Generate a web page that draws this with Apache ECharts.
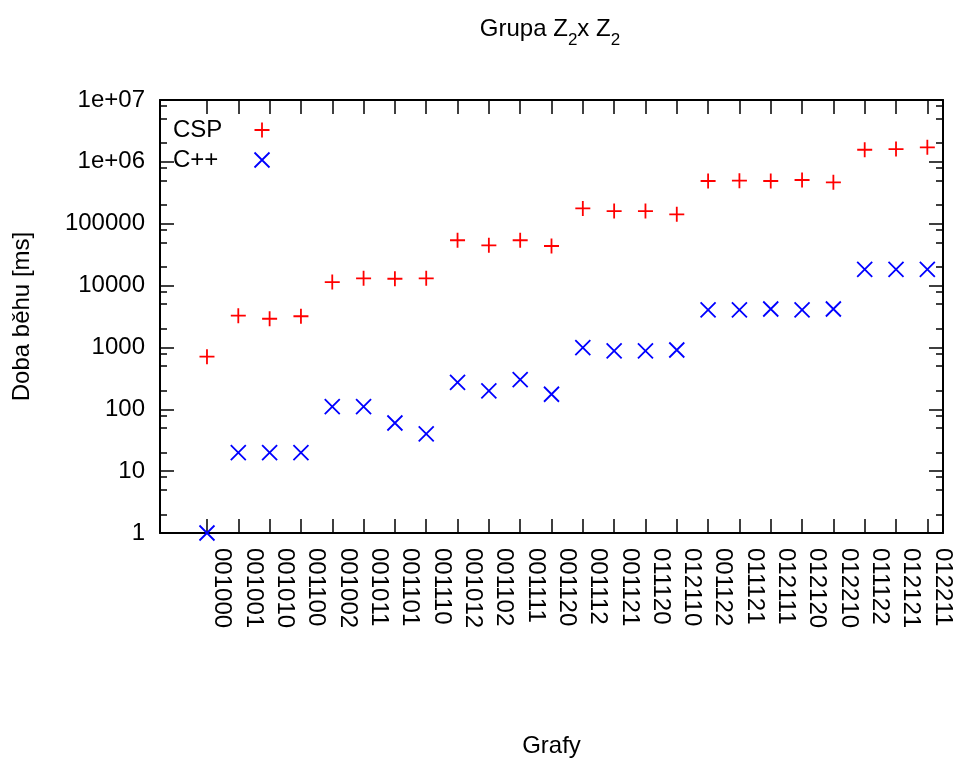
<!DOCTYPE html>
<html>
<head>
<meta charset="utf-8">
<script src="https://cdn.jsdelivr.net/npm/echarts@6/dist/echarts.min.js"></script>
<style>
  html, body { margin: 0; padding: 0; background: #fff; }
  #chart { width: 955px; height: 761px; }
</style>
</head>
<body>
<div id="chart"></div>
<script>
// Graph identifiers along the x axis
const categories = [
  '001000', '001001', '001010', '001100', '001002', '001011', '001101', '001110',
  '001012', '001102', '001111', '001120', '001112', '001121', '011120', '012110',
  '001122', '011121', '012111', '012120', '012210', '011122', '012121', '012211'
];

// Run times in milliseconds
const cspTimes = [
  710, 3260, 2910, 3190, 11400, 13100, 12900, 13100,
  54000, 44800, 54000, 43600, 177000, 160000, 160000, 142000,
  490000, 496000, 490000, 509000, 467000, 1570000, 1610000, 1720000
];
const cppTimes = [
  1, 20, 20, 20, 110, 110, 60, 40,
  273, 198, 301, 175, 990, 876, 876, 909,
  4030, 4030, 4180, 4030, 4180, 18300, 18300, 18300
];

// Axis ticks
const yTickValues = [1, 10, 100, 1000, 10000, 100000, 1000000, 10000000];
const yTickLabels = ['1', '10', '100', '1000', '10000', '100000', '1e+06', '1e+07'];
const yMinorSteps = [2, 5, 8];

// Graphs sit at x = 1 .. 24
const xPositions = categories.map((_, i) => i + 1);
const yMinorTicks = [];
for (let k = 0; k < yTickValues.length - 1; k++) {
  yMinorSteps.forEach(m => yMinorTicks.push(m * yTickValues[k]));
}

const FONT = 'Liberation Sans, Arial, sans-serif';
const black = '#000000';
const frameLine = { show: true, onZero: false, lineStyle: { color: black, width: 2 } };
const hiddenLine = { show: false, onZero: false };
const tickLine = { color: black, width: 1.5 };

const plusSymbol = 'path://M7.5,0L7.5,15M0,7.5L15,7.5';
const crossSymbol = 'path://M0,0L15,15M15,0L0,15';

const xBase = { type: 'value', min: -0.5, max: 24.5, splitLine: { show: false } };
const yBase = { type: 'log', logBase: 10, min: 1, max: 10000000, splitLine: { show: false } };

const chart = echarts.init(document.getElementById('chart'), null, { renderer: 'canvas' });

chart.setOption({
  animation: false,
  backgroundColor: '#ffffff',
  title: {
    text: 'Grupa Z{s|2}x Z{s|2}',
    left: 545,
    top: 5,
    textAlign: 'center',
    textStyle: {
      fontFamily: FONT, fontSize: 24, fontWeight: 'normal', color: black,
      rich: {
        s: { fontFamily: FONT, fontSize: 17, color: black, padding: [22, 0, 0, 0] }
      }
    }
  },
  legend: {
    orient: 'vertical',
    left: 168,
    top: 113,
    align: 'right',
    itemWidth: 15,
    itemHeight: 15,
    itemGap: 6,
    data: ['CSP', 'C++'],
    formatter: name => '{t|' + name + '}',
    itemStyle: { borderWidth: 1.8, opacity: 1 },
    textStyle: {
      rich: {
        t: { width: 76.5, align: 'left', fontFamily: FONT, fontSize: 24, lineHeight: 24, color: black }
      }
    }
  },
  grid: { left: 160, right: 12, top: 100, bottom: 228, outerBoundsMode: 'none' },
  xAxis: [
    Object.assign({}, xBase, {
      position: 'bottom',
      axisLine: frameLine,
      axisTick: { inside: true, length: 14, customValues: xPositions, lineStyle: tickLine },
      axisLabel: {
        customValues: xPositions,
        rotate: -90,
        margin: 15,
        verticalAlign: 'bottom',
        lineHeight: 30,
        hideOverlap: false,
        showMinLabel: true,
        showMaxLabel: true,
        fontFamily: FONT, fontSize: 24, color: black,
        formatter: v => categories[Math.round(v) - 1]
      },
      name: 'Grafy',
      nameLocation: 'middle',
      nameGap: 201,
      nameTextStyle: { fontFamily: FONT, fontSize: 24, color: black }
    }),
    Object.assign({}, xBase, {
      position: 'top',
      axisLine: frameLine,
      axisTick: { inside: true, length: 14, customValues: xPositions, lineStyle: tickLine },
      axisLabel: { show: false }
    })
  ],
  yAxis: [
    Object.assign({}, yBase, {
      position: 'left',
      axisLine: frameLine,
      axisTick: { inside: true, length: 14, customValues: yTickValues, lineStyle: tickLine },
      axisLabel: {
        customValues: yTickValues,
        margin: 15,
        showMinLabel: true,
        showMaxLabel: true,
        fontFamily: FONT, fontSize: 24, color: black,
        formatter: v => yTickLabels[Math.round(Math.log10(v))]
      },
      name: 'Doba běhu [ms]',
      nameLocation: 'middle',
      nameGap: 126,
      nameRotate: 90,
      nameTextStyle: { fontFamily: FONT, fontSize: 24, color: black }
    }),
    Object.assign({}, yBase, {
      position: 'left',
      axisLine: hiddenLine,
      axisTick: { inside: true, length: 7, customValues: yMinorTicks, lineStyle: tickLine },
      axisLabel: { show: false }
    }),
    Object.assign({}, yBase, {
      position: 'right',
      axisLine: frameLine,
      axisTick: { inside: true, length: 14, customValues: yTickValues, lineStyle: tickLine },
      axisLabel: { show: false }
    }),
    Object.assign({}, yBase, {
      position: 'right',
      axisLine: hiddenLine,
      axisTick: { inside: true, length: 7, customValues: yMinorTicks, lineStyle: tickLine },
      axisLabel: { show: false }
    })
  ],
  series: [
    {
      name: 'CSP',
      type: 'scatter',
      xAxisIndex: 0,
      yAxisIndex: 0,
      clip: false,
      symbol: plusSymbol,
      symbolSize: 15,
      itemStyle: { color: '#ff0000', borderColor: '#ff0000', borderWidth: 1.8, opacity: 1 },
      data: cspTimes.map((v, i) => [xPositions[i], v])
    },
    {
      name: 'C++',
      type: 'scatter',
      xAxisIndex: 0,
      yAxisIndex: 0,
      clip: false,
      symbol: crossSymbol,
      symbolSize: 15,
      itemStyle: { color: '#0000ff', borderColor: '#0000ff', borderWidth: 1.8, opacity: 1 },
      data: cppTimes.map((v, i) => [xPositions[i], v])
    }
  ]
});
</script>
</body>
</html>
